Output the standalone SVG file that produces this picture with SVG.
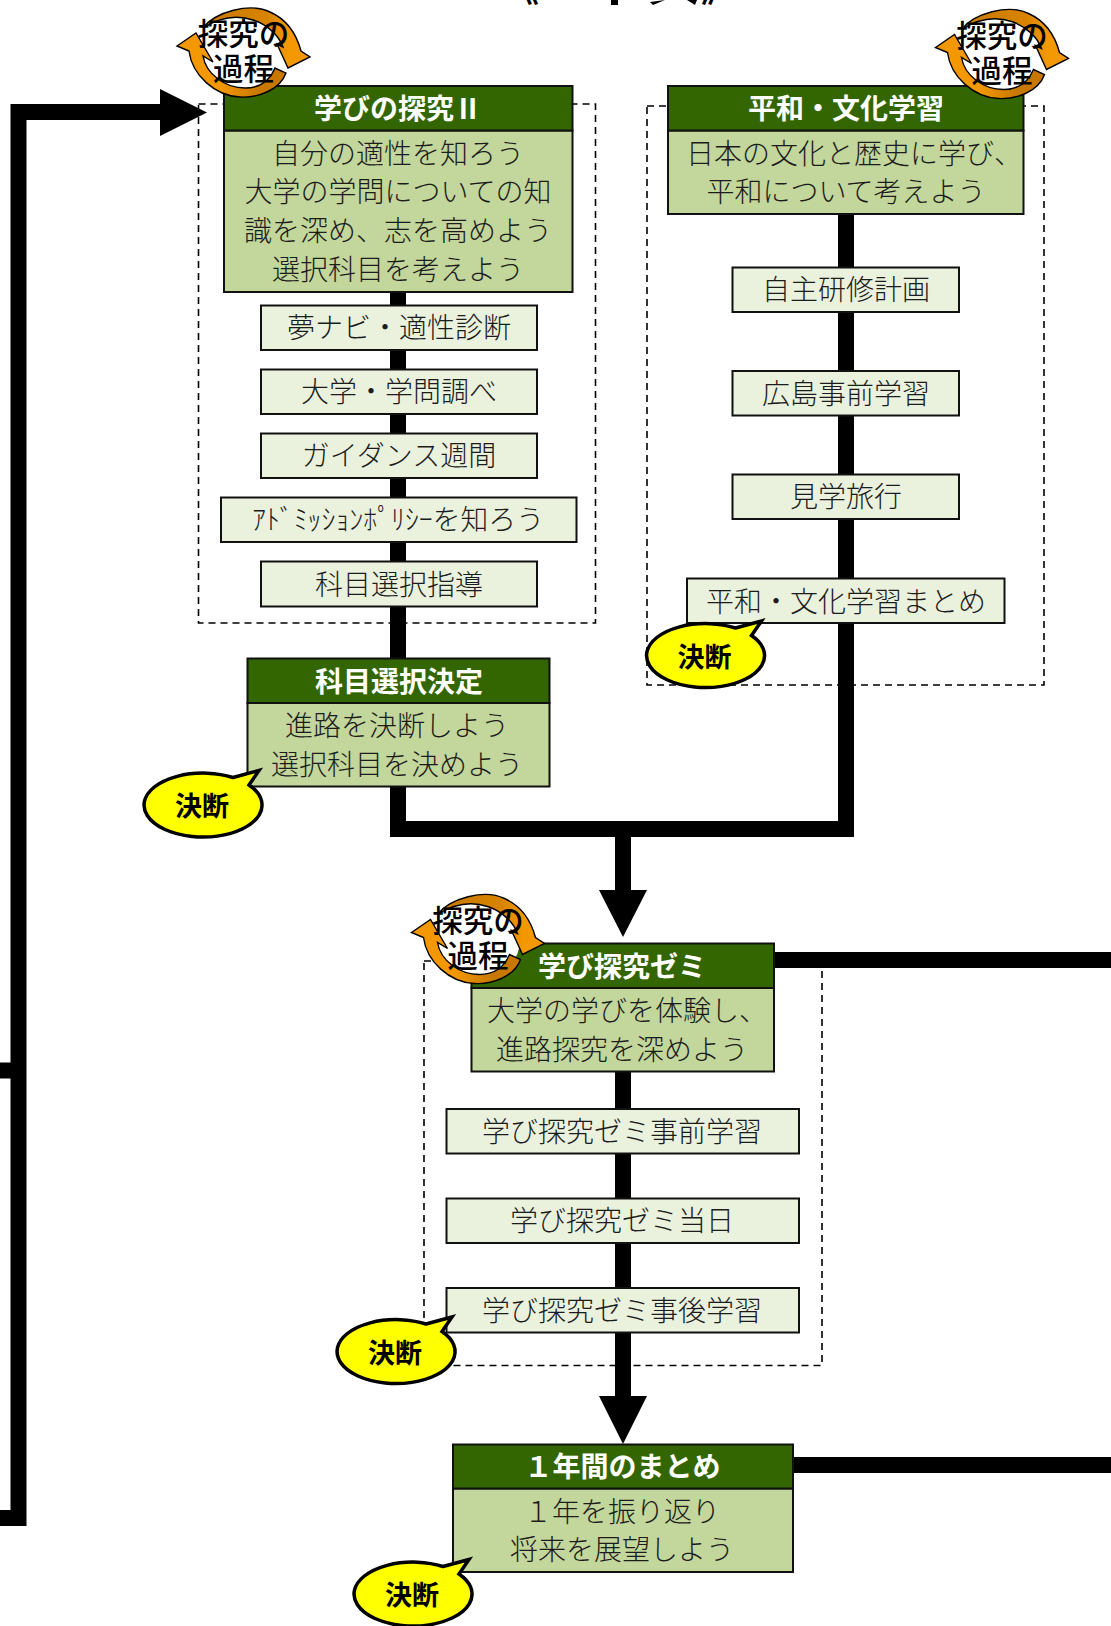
<svg xmlns="http://www.w3.org/2000/svg" xmlns:xlink="http://www.w3.org/1999/xlink" width="1111" height="1626" viewBox="0 0 1111 1626">
<style>
text{font-family:"Noto Sans CJK JP","Liberation Sans",sans-serif;text-anchor:middle}
.b{font-size:28px;fill:#1c1c1c;font-weight:300}
.h{font-size:28px;fill:#fff;font-weight:700}
.c{font-size:27px;fill:#000;font-weight:700}
.i{font-size:30.500px;fill:#000;font-weight:500}
.hd{fill:#336600;stroke:#111;stroke-width:2}
.bd{fill:#C3D69B;stroke:#111;stroke-width:2}
.sb{fill:#EAF1DD;stroke:#111;stroke-width:2}
.ds{fill:none;stroke:#000;stroke-width:1.6;stroke-dasharray:7 5}
.cn{fill:none;stroke:#000;stroke-width:16}
.ah{fill:#000}
.call{fill:#FFFF00;stroke:#000;stroke-width:3.5;stroke-linejoin:miter}
.ar{stroke:#000;stroke-width:1.4;stroke-linejoin:miter}
</style>
<defs>
<linearGradient id="g1" x1="0" x2="1" y1="0" y2="0"><stop offset="0" stop-color="#C87800"/><stop offset="0.6" stop-color="#D88400"/><stop offset="0.8" stop-color="#F39800"/></linearGradient>
<linearGradient id="g2" x1="0" x2="1" y1="0" y2="0"><stop offset="0" stop-color="#F39800"/><stop offset="0.4" stop-color="#F39800"/><stop offset="0.75" stop-color="#C87800"/></linearGradient>
<g id="icon">
<ellipse cx="243" cy="52" rx="43" ry="41" fill="#fff"/>
<path class="ar" fill="url(#g1)" d="M203,28 C215,12 250,2 270,12 C288,20 297,36 301,51 L310,57 L288,68 L277,44 L283,47 C275,25 240,4 203,28 Z"/>
<path class="ar" fill="url(#g2)" d="M177,46 L196,33 L213,62 L203,56 C206,74 225,88 245,88 C260,88 270,80 275,68 L286,73 C280,90 258,98 240,97 C215,96 192,75 189,51 Z"/>
<text class="i" x="243.500" y="45">探究の</text>
<text class="i" x="243.500" y="80">過程</text>
</g>
<g id="callout">
<path class="call" d="M30,-27.5 L56,-34.5 L46,-20 A59 32 0 1 1 30,-27.5 Z"/>
<text class="c" x="-1" y="11">決断</text>
</g>
</defs>

<g id="title">
<text x="521" y="2" style="font-size:36px;font-weight:700">《</text>
<text x="719" y="2" style="font-size:36px;font-weight:700">》</text>
<rect x="611" y="0" width="7" height="5" fill="#000"/>
<path d="M650,2 L665,0 L653,5 Z M687,0 L697,0 L695,5 Z" fill="#000"/>
</g>

<g id="frames">
<rect class="ds" x="198.500" y="104" width="397" height="519"/>
<rect class="ds" x="647" y="106" width="397" height="579"/>
<rect class="ds" x="424" y="961" width="398" height="404.500"/>
</g>

<g id="connectors">
<path class="cn" d="M398,291 V658"/>
<path class="cn" d="M398,786 V829 H846 V214"/>
<path class="cn" d="M623,829 V892"/>
<polygon class="ah" points="599,890 647,890 623,937"/>
<path class="cn" d="M623,1071 V1398"/>
<polygon class="ah" points="599,1396 647,1396 623,1444"/>
<path class="cn" d="M774,960 H1111"/>
<path class="cn" d="M793,1465 H1111"/>
<path class="cn" d="M162,112 H18.500 V1518 H0"/>
<polygon class="ah" points="160,89 207,112.500 160,136"/>
<path class="cn" d="M18,1070.500 H0"/>
</g>

<g id="n-manabi2">
<rect class="bd" x="224" y="130.500" width="348.500" height="161.500"/>
<rect class="hd" x="224" y="86" width="348.500" height="44.500"/>
<text class="h" x="398" y="119">学びの探究Ⅱ</text>
<text class="b" x="398" y="164">自分の適性を知ろう</text>
<text class="b" x="398" y="202">大学の学問についての知</text>
<text class="b" x="398" y="241">識を深め、志を高めよう</text>
<text class="b" x="398" y="280">選択科目を考えよう</text>
</g>
<g id="n-yume"><rect class="sb" x="261" y="305.500" width="276" height="44.500"/><text class="b" x="399" y="338">夢ナビ・適性診断</text></g>
<g id="n-daigaku"><rect class="sb" x="261" y="369.500" width="276" height="44.500"/><text class="b" x="399" y="402">大学・学問調べ</text></g>
<g id="n-guidance"><rect class="sb" x="261" y="433.500" width="276" height="44.500"/><text class="b" x="399" y="466">ガイダンス週間</text></g>
<g id="n-ap"><rect class="sb" x="221" y="497.500" width="355.500" height="44.500"/><text class="b" x="398" y="530" textLength="292" lengthAdjust="spacingAndGlyphs">ｱﾄﾞﾐｯｼｮﾝﾎﾟﾘｼｰを知ろう</text></g>
<g id="n-kamoku"><rect class="sb" x="261" y="561.500" width="276" height="45"/><text class="b" x="399" y="595">科目選択指導</text></g>
<g id="n-kettei">
<rect class="bd" x="247.500" y="703" width="302" height="83.500"/>
<rect class="hd" x="247.500" y="658.500" width="302" height="44.500"/>
<text class="h" x="399" y="692">科目選択決定</text>
<text class="b" x="397" y="736">進路を決断しよう</text>
<text class="b" x="397" y="775">選択科目を決めよう</text>
</g>

<g id="n-heiwa">
<rect class="bd" x="668" y="130.500" width="355.500" height="83.500"/>
<rect class="hd" x="668" y="86" width="355.500" height="44.500"/>
<text class="h" x="846" y="119">平和・文化学習</text>
<text class="b" x="854" y="164">日本の文化と歴史に学び、</text>
<text class="b" x="846" y="202">平和について考えよう</text>
</g>
<g id="n-jishu"><rect class="sb" x="732.500" y="267.500" width="226.500" height="44.500"/><text class="b" x="846" y="300">自主研修計画</text></g>
<g id="n-hiroshima"><rect class="sb" x="732.500" y="371" width="226.500" height="44.500"/><text class="b" x="846" y="404">広島事前学習</text></g>
<g id="n-kengaku"><rect class="sb" x="732.500" y="474.500" width="226.500" height="44.500"/><text class="b" x="846" y="507">見学旅行</text></g>
<g id="n-matome"><rect class="sb" x="687" y="578.500" width="317.500" height="44.500"/><text class="b" x="846" y="612">平和・文化学習まとめ</text></g>

<g id="n-zemi">
<rect class="bd" x="471.500" y="988" width="302.500" height="83.500"/>
<rect class="hd" x="471.500" y="943.500" width="302.500" height="44.500"/>
<text class="h" x="622" y="977">学び探究ゼミ</text>
<text class="b" x="627" y="1021">大学の学びを体験し、</text>
<text class="b" x="622" y="1060">進路探究を深めよう</text>
</g>
<g id="n-zemi1"><rect class="sb" x="446.500" y="1109" width="352.500" height="44.500"/><text class="b" x="622" y="1142">学び探究ゼミ事前学習</text></g>
<g id="n-zemi2"><rect class="sb" x="446.500" y="1198.500" width="352.500" height="44.500"/><text class="b" x="622" y="1231">学び探究ゼミ当日</text></g>
<g id="n-zemi3"><rect class="sb" x="446.500" y="1288" width="352.500" height="44.500"/><text class="b" x="622" y="1321">学び探究ゼミ事後学習</text></g>

<g id="n-year">
<rect class="bd" x="453" y="1488.500" width="340" height="83.500"/>
<rect class="hd" x="453" y="1444.500" width="340" height="44"/>
<text class="h" x="622.500" y="1477">１年間のまとめ</text>
<text class="b" x="622" y="1522">１年を振り返り</text>
<text class="b" x="622" y="1560">将来を展望しよう</text>
</g>

<g id="icons">
<use xlink:href="#icon" href="#icon"/>
<use xlink:href="#icon" href="#icon" transform="translate(758.500,1.500)"/>
<use xlink:href="#icon" href="#icon" transform="translate(234.500,886.500)"/>
</g>
<g id="callouts">
<use xlink:href="#callout" href="#callout" x="203" y="805"/>
<use xlink:href="#callout" href="#callout" x="705.500" y="655.500"/>
<use xlink:href="#callout" href="#callout" x="396" y="1351.500"/>
<use xlink:href="#callout" href="#callout" x="413" y="1594"/>
</g>
</svg>
